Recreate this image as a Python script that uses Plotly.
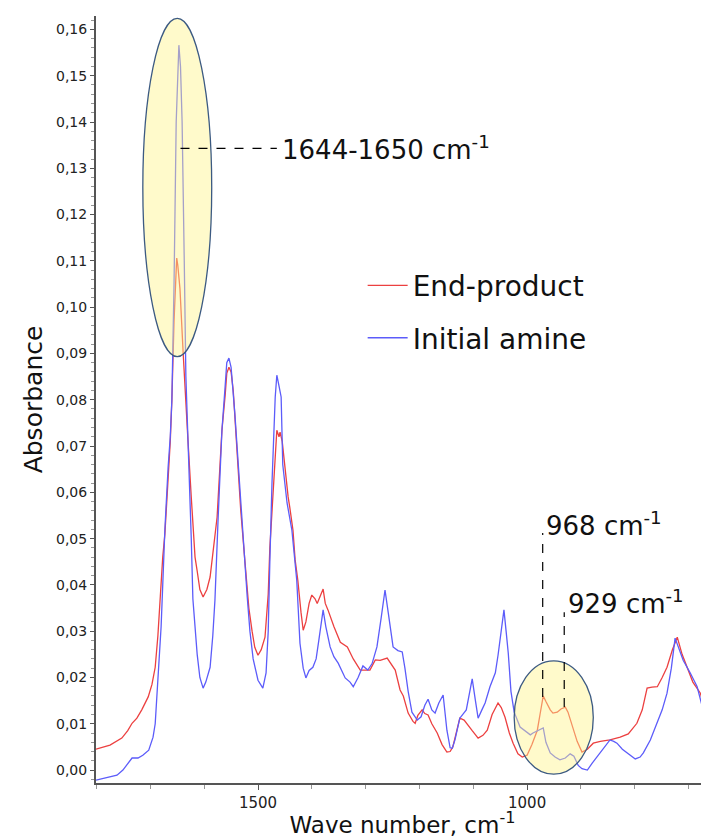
import plotly.graph_objects as go

# ---------------- data ----------------
end_wn = [1801, 1775, 1753, 1742, 1734, 1725, 1716, 1704, 1697, 1691, 1686, 1682, 1677, 1673,
          1667, 1663, 1660, 1656, 1652, 1651, 1649, 1645, 1639, 1634, 1630, 1624, 1617, 1613,
          1608, 1602, 1595, 1589, 1584, 1576, 1571, 1567, 1561, 1558, 1554, 1550, 1546, 1541,
          1537, 1532, 1524, 1517, 1511, 1506, 1500, 1494, 1487, 1481, 1478, 1472, 1468, 1465,
          1461, 1459, 1455, 1450, 1444, 1441, 1435, 1431, 1426, 1420, 1416, 1411, 1405, 1400,
          1394, 1390, 1385, 1379, 1375, 1370, 1359, 1347, 1334, 1323, 1310, 1292, 1282, 1273,
          1260, 1253, 1245, 1236, 1230, 1221, 1212, 1208, 1203, 1195, 1190, 1184, 1177, 1167,
          1158, 1149, 1143, 1138, 1132, 1125, 1117, 1112, 1102, 1091, 1082, 1074, 1065, 1054,
          1048, 1041, 1033, 1026, 1017, 1009, 1000, 991, 981, 976, 970, 965, 957, 952, 944,
          937, 929, 924, 916, 907, 898, 888, 877, 864, 846, 827, 812, 796, 786, 777, 768, 758,
          749, 740, 730, 721, 712, 703, 692, 678, 669, 662]
end_abs = [0.0045, 0.0054, 0.0069, 0.0085, 0.0101, 0.0112, 0.0130, 0.0158, 0.0185, 0.0222,
           0.029, 0.0367, 0.046, 0.051, 0.063, 0.071, 0.080, 0.097, 0.108, 0.1106, 0.109, 0.104,
           0.090, 0.078, 0.071, 0.059, 0.046, 0.043, 0.039, 0.0374, 0.039, 0.0417, 0.047,
           0.0546, 0.065, 0.0734, 0.081, 0.0857, 0.087, 0.086, 0.082, 0.073, 0.066, 0.056,
           0.0447, 0.035, 0.030, 0.0265, 0.0248, 0.026, 0.0287, 0.038, 0.048, 0.060, 0.066,
           0.0734, 0.072, 0.073, 0.071, 0.065, 0.059, 0.0568, 0.0518, 0.0454, 0.041, 0.034,
           0.0302, 0.032, 0.036, 0.0378, 0.037, 0.036, 0.0375, 0.0391, 0.036, 0.0346, 0.031,
           0.0276, 0.0266, 0.024, 0.0216, 0.0216, 0.0238, 0.0237, 0.0242, 0.023, 0.0216,
           0.0173, 0.0160, 0.0123, 0.0105, 0.0101, 0.0118, 0.013, 0.0122, 0.0119, 0.010,
           0.008, 0.0055, 0.0039, 0.0040, 0.005, 0.008, 0.0112, 0.0108, 0.0101, 0.0085,
           0.0069, 0.0075, 0.0086, 0.012, 0.0145, 0.0135, 0.0114, 0.008, 0.0058, 0.0035,
           0.0028, 0.0032, 0.0055, 0.0086, 0.012, 0.016, 0.0148, 0.013, 0.0123, 0.0125,
           0.0132, 0.0136, 0.0125, 0.0093, 0.0062, 0.0039, 0.0045, 0.0058, 0.0062, 0.0065,
           0.0071, 0.0078, 0.0101, 0.013, 0.0177, 0.0179, 0.018, 0.020, 0.0222, 0.026, 0.0287,
           0.025, 0.0222, 0.019, 0.0166, 0.013, 0.0108]

amine_wn = [1801, 1775, 1762, 1751, 1742, 1734, 1723, 1714, 1703, 1695, 1691, 1688, 1684,
            1680, 1677, 1673, 1667, 1663, 1660, 1656, 1652, 1649, 1647, 1644, 1641, 1637,
            1634, 1630, 1628, 1624, 1621, 1617, 1613, 1608, 1602, 1597, 1589, 1584, 1580,
            1574, 1567, 1561, 1558, 1554, 1550, 1543, 1533, 1526, 1520, 1515, 1509, 1500,
            1491, 1485, 1481, 1478, 1474, 1468, 1465, 1461, 1457, 1454, 1446, 1437, 1431,
            1428, 1422, 1416, 1411, 1405, 1398, 1392, 1387, 1379, 1374, 1366, 1359, 1351,
            1338, 1329, 1323, 1314, 1305, 1296, 1288, 1279, 1271, 1264, 1258, 1249, 1240,
            1232, 1227, 1221, 1214, 1204, 1197, 1190, 1184, 1177, 1171, 1164, 1156, 1152,
            1149, 1143, 1139, 1134, 1125, 1113, 1108, 1102, 1096, 1091, 1084, 1078, 1069,
            1059, 1054, 1048, 1043, 1039, 1035, 1030, 1024, 1013, 1004, 994, 989, 981, 976,
            970, 965, 957, 948, 939, 929, 920, 913, 905, 898, 888, 879, 870, 859, 846, 839,
            833, 823, 814, 807, 799, 790, 784, 771, 758, 749, 740, 732, 725, 717, 710, 697,
            684, 673, 662]
amine_abs = [-0.0022, -0.0015, -0.0011, 0.0, 0.0015, 0.0026, 0.0026, 0.0032, 0.0043, 0.0071,
             0.010, 0.0151, 0.024, 0.031, 0.040, 0.052, 0.0654, 0.072, 0.080, 0.105, 0.140,
             0.152, 0.1566, 0.152, 0.140, 0.110, 0.085, 0.071, 0.062, 0.050, 0.037, 0.030,
             0.025, 0.020, 0.0177, 0.019, 0.0222, 0.029, 0.0367, 0.0546, 0.0734, 0.083, 0.088,
             0.089, 0.087, 0.077, 0.059, 0.046, 0.0374, 0.030, 0.024, 0.0194, 0.0177, 0.021,
             0.030, 0.045, 0.062, 0.0806, 0.0853, 0.083, 0.0806, 0.066, 0.0577, 0.0518,
             0.0454, 0.041, 0.0274, 0.022, 0.0199, 0.0215, 0.0222, 0.024, 0.028, 0.0346,
             0.031, 0.0266, 0.0245, 0.0231, 0.0199, 0.019, 0.018, 0.020, 0.0225, 0.0216,
             0.023, 0.0266, 0.033, 0.0389, 0.034, 0.0266, 0.0258, 0.0255, 0.022, 0.017,
             0.0125, 0.0108, 0.0115, 0.014, 0.0153, 0.013, 0.0123, 0.0145, 0.0162, 0.012,
             0.0086, 0.0048, 0.0047, 0.0065, 0.0112, 0.013, 0.016, 0.0197, 0.015, 0.0112,
             0.013, 0.0145, 0.018, 0.021, 0.0248, 0.030, 0.0346, 0.030, 0.0253, 0.017, 0.0125,
             0.0093, 0.0085, 0.0076, 0.008, 0.0085, 0.0089, 0.0091, 0.006, 0.0037, 0.0028,
             0.0022, 0.0026, 0.0035, 0.003, 0.001, 0.0003, 0.0, 0.0015, 0.0028, 0.0045, 0.0065,
             0.0062, 0.0058, 0.0045, 0.0037, 0.003, 0.0024, 0.0028, 0.0037, 0.0065, 0.0101,
             0.013, 0.0166, 0.022, 0.0285, 0.026, 0.0237, 0.021, 0.018, 0.013, 0.0086]

y_tick_values = [0.00, 0.01, 0.02, 0.03, 0.04, 0.05, 0.06, 0.07, 0.08, 0.09, 0.10, 0.11,
                 0.12, 0.13, 0.14, 0.15, 0.16]
y_tick_labels = ["0,00", "0,01", "0,02", "0,03", "0,04", "0,05", "0,06", "0,07", "0,08",
                 "0,09", "0,10", "0,11", "0,12", "0,13", "0,14", "0,15", "0,16"]
x_tick_values = [1500, 1000]
x_tick_labels = ["1500", "1000"]

series_names = ["End-product", "Initial amine"]
series_colors = ["rgb(236,64,64)", "rgb(92,92,250)"]

FONT = "DejaVu Sans, Open Sans, sans-serif"

fig = go.Figure()
fig.add_trace(go.Scatter(x=end_wn, y=end_abs, mode="lines", name=series_names[0],
                         line=dict(color=series_colors[0], width=1.3), legendgroup="a"))
fig.add_trace(go.Scatter(x=amine_wn, y=amine_abs, mode="lines", name=series_names[1],
                         line=dict(color=series_colors[1], width=1.3), legendgroup="b"))

# highlighted regions (ellipses): translucent fill above lines + outline
for (x0, x1, y0, y1) in [(1714, 1586, 0.0893, 0.1624), (1024, 877, -0.0009, 0.0236)]:
    fig.add_shape(type="circle", xref="x", yref="y", x0=x0, x1=x1, y0=y0, y1=y1,
                  fillcolor="rgb(255,244,140)", opacity=0.45, line=dict(width=0), layer="above")
    fig.add_shape(type="circle", xref="x", yref="y", x0=x0, x1=x1, y0=y0, y1=y1,
                  fillcolor="rgba(0,0,0,0)", line=dict(color="rgb(60,90,130)", width=1.3),
                  layer="above")

# dashed leader lines
dash = dict(color="black", width=1.2, dash="dash")
fig.add_shape(type="line", xref="x", yref="y", x0=1644, x1=1465, y0=0.1343, y1=0.1343,
              line=dash, layer="above")
fig.add_shape(type="line", xref="x", yref="y", x0=971, x1=971, y0=0.0158, y1=0.0512,
              line=dash, layer="above")
fig.add_shape(type="line", xref="x", yref="y", x0=931, x1=931, y0=0.0136, y1=0.0341,
              line=dash, layer="above")

ann_font = dict(family=FONT, size=26, color="#111")
fig.add_annotation(x=1460, y=0.1343, xref="x", yref="y", text="1644-1650 cm<sup>-1</sup>",
                   showarrow=False, xanchor="left", yanchor="middle", font=ann_font)
fig.add_annotation(x=968, y=0.0532, xref="x", yref="y", text="968 cm<sup>-1</sup>",
                   showarrow=False, xanchor="left", yanchor="middle", font=ann_font)
fig.add_annotation(x=927, y=0.0362, xref="x", yref="y", text="929 cm<sup>-1</sup>",
                   showarrow=False, xanchor="left", yanchor="middle", font=ann_font)

axis_line = "rgb(85,85,85)"
# the page body adds an 8px margin, so the figure is 8px smaller than the window
fig.update_layout(
    width=701, height=830,
    margin=dict(l=88, r=0, t=8, b=55),
    paper_bgcolor="white", plot_bgcolor="white",
    font=dict(family=FONT, color="#222"),
    showlegend=True,
    legend=dict(x=0.435, y=0.681, xanchor="left", yanchor="top",
                font=dict(family=FONT, size=28, color="#111"),
                bgcolor="rgba(0,0,0,0)", tracegroupgap=13, itemwidth=40),
    xaxis=dict(range=[1801, 662], tickvals=x_tick_values, ticktext=x_tick_labels,
               ticks="outside", ticklen=5, tickcolor=axis_line, showgrid=False,
               zeroline=False, showline=True, linecolor=axis_line, linewidth=2,
               automargin=False,
               tickfont=dict(family=FONT, size=15, color="#222"),
               minor=dict(dtick=100, tick0=1000, ticks="outside", ticklen=4,
                          tickcolor="rgb(150,150,150)"),
               title=dict(text="Wave number, cm<sup>-1</sup>",
                          font=dict(family=FONT, size=23, color="#111"), standoff=4)),
    yaxis=dict(range=[-0.0028, 0.1629], tickvals=y_tick_values, ticktext=y_tick_labels,
               ticks="outside", ticklen=4, tickcolor=axis_line, showgrid=False,
               zeroline=False, showline=True, linecolor=axis_line, linewidth=2,
               automargin=False,
               tickfont=dict(family=FONT, size=14, color="#222"),
               minor=dict(dtick=0.002, tick0=0, ticks="outside", ticklen=3,
                          tickcolor="rgb(150,150,150)"),
               title=dict(text="Absorbance", font=dict(family=FONT, size=25, color="#111"),
                          standoff=6)),
)

fig.write_html("out.html")
